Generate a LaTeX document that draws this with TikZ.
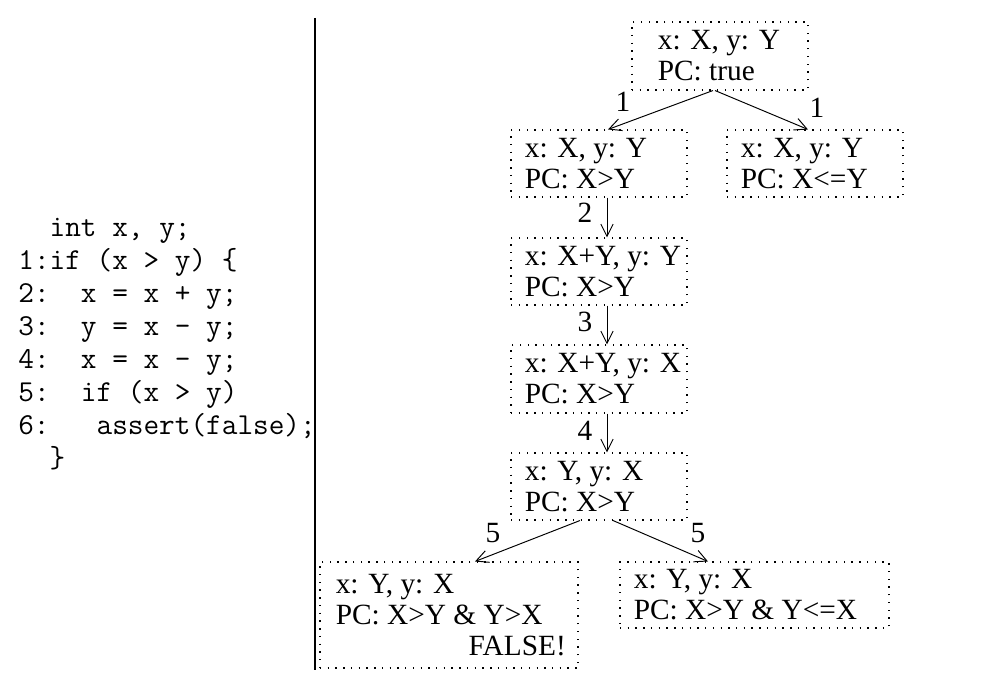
\documentclass[tikz,border=0pt]{standalone}
\usepackage{fontspec}
\setmainfont{Liberation Serif}
\usetikzlibrary{arrows.meta}
\begin{document}
\begin{tikzpicture}[x=0.2mm,y=-0.2mm,
  box/.style={draw, line width=0.6pt, dash pattern=on 0.8pt off 3.6pt, inner sep=0pt},
  txt/.style={align=left, inner sep=0pt, anchor=west, font=\fontsize{16.7}{17.6}\selectfont},
  lbl/.style={inner sep=0pt, font=\fontsize{16.7}{17.6}\selectfont},
  code/.style={anchor=base west, inner sep=0pt, font=\fontsize{17.3}{18.8}\selectfont\ttfamily},
  arr/.style={line width=0.55pt, -{Straight Barb[length=7pt,width=7pt]}}]
\useasboundingbox (0,0) rectangle (1007,690);

% code listing
\node[code] (c0) at (18,237) {~~int x, y;};
\node[code] (c1) at (18,270) {1:if (x > y) \{};
\node[code] (c2) at (18,303) {2:~~x = x + y;};
\node[code] (c3) at (18,336) {3:~~y = x - y;};
\node[code] (c4) at (18,369) {4:~~x = x - y;};
\node[code] (c5) at (18,402) {5:~~if (x > y)};
\node[code] (c6) at (18,435) {6:~~~assert(false);};
\node[code] (c7) at (18,468) {~~\}};

% separator
\draw[line width=1.7pt] (315,18) -- (315,670);

% boxes
\node[box, minimum width=35.2mm, minimum height=13.6mm] (top) at (720,56) {};
\node[box, minimum width=35.2mm, minimum height=13.4mm] (b1l) at (599,163.5) {};
\node[box, minimum width=35.2mm, minimum height=13.4mm] (b1r) at (815,163.5) {};
\node[box, minimum width=35.2mm, minimum height=13.4mm] (b2) at (599,271.5) {};
\node[box, minimum width=35.2mm, minimum height=13.6mm] (b3) at (599,379) {};
\node[box, minimum width=35.2mm, minimum height=13.4mm] (b4) at (599,486.5) {};
\node[box, minimum width=51.6mm, minimum height=21.2mm] (b5l) at (449,615) {};
\node[box, minimum width=53.8mm, minimum height=13.2mm] (b5r) at (754.5,595) {};

% box texts
\node[txt] (ttop) at ([xshift=5.2mm]top.west) {x: X, y: Y\\PC: true};
\node[txt] (tb1l) at ([xshift=2.8mm]b1l.west) {x: X, y: Y\\PC: X>Y};
\node[txt] (tb1r) at ([xshift=2.8mm]b1r.west) {x: X, y: Y\\PC: X<=Y};
\node[txt] (tb2) at ([xshift=2.8mm]b2.west) {x: X+Y, y: Y\\PC: X>Y};
\node[txt] (tb3) at ([xshift=2.8mm]b3.west) {x: X+Y, y: X\\PC: X>Y};
\node[txt] (tb4) at ([xshift=2.8mm]b4.west) {x: Y, y: X\\PC: X>Y};
\node[txt] (tb5l) at ([xshift=3.2mm]b5l.west) {x: Y, y: X\\PC: X>Y \& Y>X\\\makebox[46mm][r]{FALSE!}};
\node[txt] (tb5r) at ([xshift=2.8mm]b5r.west) {x: Y, y: X\\PC: X>Y \& Y<=X};

% connectors
\draw[arr] ([xshift=-1.4mm]top.south) -- ([xshift=1.8mm]b1l.north);
\draw[arr] ([xshift=-1.0mm]top.south) -- ([xshift=-1.4mm]b1r.north);
\draw[arr] ([xshift=1.6mm]b1l.south) -- ([xshift=1.6mm]b2.north);
\draw[arr] ([xshift=1.6mm]b2.south) -- ([xshift=1.6mm]b3.north);
\draw[arr] ([xshift=1.6mm]b3.south) -- ([xshift=1.6mm]b4.north);
\draw[arr] ([xshift=-3.8mm]b4.south) -- ([xshift=5.2mm]b5l.north);
\draw[arr] ([xshift=2.8mm]b4.south) -- ([xshift=-9.3mm]b5r.north);

% step labels
\node[lbl] (l1a) at (623,102) {1};
\node[lbl] (l1b) at (817,108) {1};
\node[lbl] (l2) at (585,213) {2};
\node[lbl] (l3) at (585,322) {3};
\node[lbl] (l4) at (585,431) {4};
\node[lbl] (l5a) at (493,533) {5};
\node[lbl] (l5b) at (698,533) {5};
\end{tikzpicture}
\end{document}
